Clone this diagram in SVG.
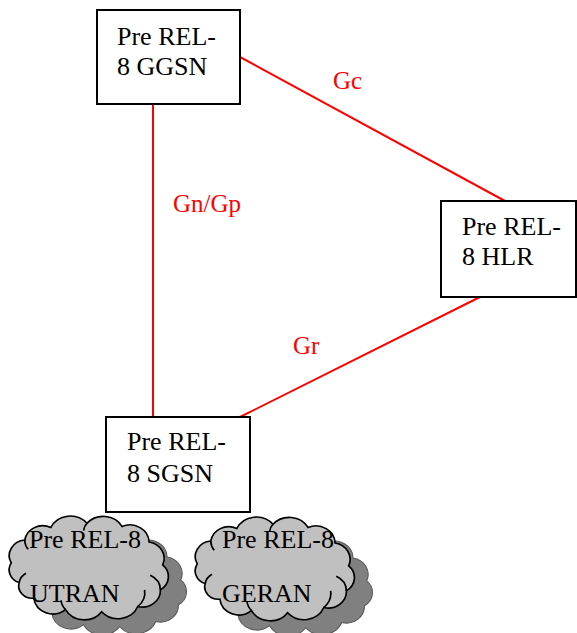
<svg xmlns="http://www.w3.org/2000/svg" xmlns:xlink="http://www.w3.org/1999/xlink" width="577" height="633" viewBox="0 0 577 633">
  <style>
    .box { fill: #ffffff; stroke: #000000; stroke-width: 2; }
    .lbl { font-family: "Liberation Serif", "Times New Roman", serif; font-size: 26px; fill: #000000; }
    .if { font-family: "Liberation Serif", "Times New Roman", serif; font-size: 25px; fill: #ff0000; }
    .link { stroke: #ff0000; stroke-width: 2; fill: none; }
    .cloud-front { fill: #c0c0c0; stroke: #000000; stroke-width: 1.5; vector-effect: non-scaling-stroke; }
    .cloud-shadow { fill: #808080; stroke: #5a5a5a; stroke-width: 1; vector-effect: non-scaling-stroke; }
    .cloud-inner { fill: none; stroke: #000000; stroke-width: 1.5; vector-effect: non-scaling-stroke; }
  </style>
  <defs>
    <!-- cloud outline; drawn extent about x 8..148, y 2..100 -->
    <path id="cloudOutline" d="M 10 48 A 15 15 0 0 1 22 26 A 16 16 0 0 1 45 14 A 19 19 0 0 1 77 10 A 19 19 0 0 1 108 13 A 17 17 0 0 1 132 28 A 16 16 0 0 1 144 50 A 15 15 0 0 1 142 74 A 16 16 0 0 1 122 90 A 19 19 0 0 1 90 95 A 19 19 0 0 1 58 93 A 17 17 0 0 1 30 82 A 12 12 0 0 1 17 67 A 13 13 0 0 1 10 48 Z"/>
    <path id="cloudCreases" d="M 17 67 A 13 13 0 0 1 23 58 M 122 90 A 18 18 0 0 0 128 74 M 142 74 A 16 16 0 0 0 133 60 M 22 26 A 14 14 0 0 0 25 35 M 77 10 A 12 12 0 0 0 74 17 M 58 93 A 16 16 0 0 1 54 84"/>
  </defs>

  <g id="connectors">
    <line class="link" x1="153" y1="104" x2="153" y2="417"/>
    <line class="link" x1="240" y1="57" x2="505" y2="201"/>
    <line class="link" x1="480" y1="297" x2="240" y2="417"/>
    <text class="if" x="333" y="89">Gc</text>
    <text class="if" x="173" y="212">Gn/Gp</text>
    <text class="if" x="293" y="354">Gr</text>
  </g>

  <g id="ggsn">
    <rect class="box" x="97" y="10" width="143" height="94"/>
    <text class="lbl" x="117" y="45">Pre REL-</text>
    <text class="lbl" x="117" y="75">8 GGSN</text>
  </g>

  <g id="hlr">
    <rect class="box" x="441" y="201" width="135" height="96"/>
    <text class="lbl" x="462" y="235">Pre REL-</text>
    <text class="lbl" x="462" y="265">8 HLR</text>
  </g>

  <g id="sgsn">
    <rect class="box" x="106" y="417" width="144" height="95"/>
    <text class="lbl" x="127" y="450">Pre REL-</text>
    <text class="lbl" x="127" y="482">8 SGSN</text>
  </g>

  <g id="utran">
    <g transform="translate(27,530) scale(1.13,1.04) translate(-8,-2)">
      <use xlink:href="#cloudOutline" class="cloud-shadow"/>
    </g>
    <g transform="translate(9,515) scale(1.13,1.04) translate(-8,-2)">
      <use xlink:href="#cloudOutline" class="cloud-front"/>
      <use xlink:href="#cloudCreases" class="cloud-inner"/>
    </g>
    <text class="lbl" x="29" y="548">Pre REL-8</text>
    <text class="lbl" x="30" y="602">UTRAN</text>
  </g>

  <g id="geran">
    <g transform="translate(213,531) scale(1.13,1.04) translate(-8,-2)">
      <use xlink:href="#cloudOutline" class="cloud-shadow"/>
    </g>
    <g transform="translate(195,516) scale(1.13,1.04) translate(-8,-2)">
      <use xlink:href="#cloudOutline" class="cloud-front"/>
      <use xlink:href="#cloudCreases" class="cloud-inner"/>
    </g>
    <text class="lbl" x="222" y="548">Pre REL-8</text>
    <text class="lbl" x="222" y="602">GERAN</text>
  </g>
</svg>
